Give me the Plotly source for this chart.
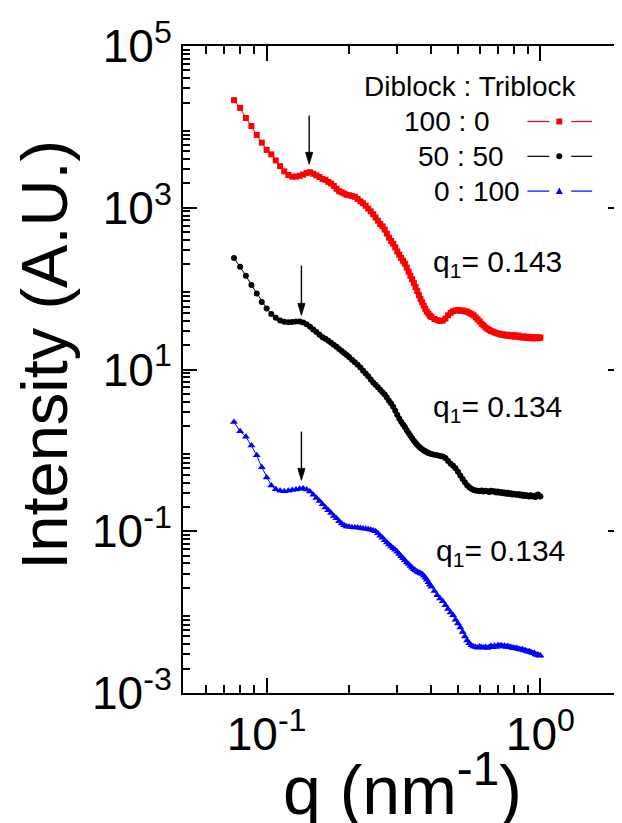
import math
import plotly.graph_objects as go

# ---------------- data ----------------
q_nm = [
    0.076, 0.080, 0.084, 0.088, 0.092, 0.096, 0.100, 0.104, 0.108, 0.112,
    0.116, 0.120, 0.124, 0.128, 0.132, 0.136, 0.140, 0.144, 0.148, 0.152,
    0.156, 0.160, 0.164, 0.168, 0.172, 0.176, 0.180, 0.184, 0.188, 0.192,
    0.196, 0.200,
    0.205, 0.210, 0.215, 0.220, 0.225, 0.230, 0.235, 0.240, 0.245, 0.250,
    0.255, 0.260, 0.265, 0.270, 0.275, 0.280, 0.285, 0.290, 0.295, 0.300,
    0.305, 0.310, 0.315, 0.320, 0.325, 0.330, 0.335, 0.340, 0.345, 0.350,
    0.355, 0.360, 0.365, 0.370, 0.375, 0.380, 0.385, 0.390, 0.395, 0.400,
    0.41, 0.42, 0.43, 0.44, 0.45, 0.46, 0.47, 0.48, 0.49, 0.50,
    0.51, 0.52, 0.53, 0.54, 0.55, 0.56, 0.57, 0.58, 0.59, 0.60,
    0.61, 0.62, 0.63, 0.64, 0.65, 0.66, 0.67, 0.68, 0.69, 0.70,
    0.71, 0.72, 0.73, 0.74, 0.75, 0.76, 0.77, 0.78, 0.79, 0.80,
    0.81, 0.82, 0.83, 0.84, 0.85, 0.86, 0.87, 0.88, 0.89, 0.90,
    0.91, 0.92, 0.93, 0.94, 0.95, 0.96, 0.97, 0.98, 0.99, 1.00,
]

# log10 of intensity (A.U.)
red_log10_I = [
    4.33, 4.235, 4.11, 4.01, 3.90, 3.805, 3.715, 3.66, 3.585, 3.515,
    3.45, 3.405, 3.385, 3.385, 3.395, 3.41, 3.43, 3.44, 3.42, 3.40,
    3.38, 3.357, 3.345, 3.32, 3.30, 3.27, 3.235, 3.205, 3.19, 3.175,
    3.16, 3.155,
    3.145, 3.135, 3.11, 3.08, 3.055, 3.025, 2.99, 2.955, 2.92, 2.88,
    2.84, 2.80, 2.77, 2.73, 2.68, 2.63, 2.59, 2.555, 2.51, 2.46,
    2.42, 2.38, 2.345, 2.31, 2.26, 2.21, 2.16, 2.115, 2.07, 2.02,
    1.97, 1.92, 1.87, 1.83, 1.79, 1.75, 1.715, 1.69, 1.665, 1.65,
    1.625, 1.61, 1.60, 1.605, 1.63, 1.67, 1.70, 1.72, 1.73, 1.735,
    1.725, 1.73, 1.72, 1.715, 1.70, 1.685, 1.67, 1.645, 1.62, 1.595,
    1.565, 1.545, 1.52, 1.505, 1.49, 1.475, 1.47, 1.46, 1.45, 1.445,
    1.44, 1.43, 1.435, 1.425, 1.42, 1.43, 1.415, 1.42, 1.41, 1.425,
    1.405, 1.41, 1.42, 1.40, 1.405, 1.395, 1.41, 1.40, 1.39, 1.405,
    1.395, 1.40, 1.385, 1.40, 1.39, 1.395, 1.385, 1.40, 1.39, 1.395,
]

black_log10_I = [
    2.38, 2.27, 2.16, 2.045, 1.94, 1.835, 1.755, 1.685, 1.64, 1.605,
    1.59, 1.585, 1.588, 1.592, 1.592, 1.58, 1.56, 1.53, 1.495, 1.465,
    1.43, 1.40, 1.38, 1.355, 1.33, 1.305, 1.28, 1.255, 1.23, 1.205,
    1.18, 1.155,
    1.12, 1.09, 1.06, 1.025, 0.985, 0.95, 0.915, 0.875, 0.84, 0.81,
    0.78, 0.75, 0.72, 0.69, 0.655, 0.615, 0.58, 0.54, 0.49, 0.44,
    0.395, 0.355, 0.32, 0.29, 0.25, 0.215, 0.18, 0.15, 0.12, 0.095,
    0.07, 0.048, 0.03, 0.015, 0.0, -0.012, -0.022, -0.032, -0.04, -0.045,
    -0.055, -0.06, -0.07, -0.075, -0.095, -0.13, -0.165, -0.19, -0.22, -0.265,
    -0.31, -0.355, -0.395, -0.43, -0.455, -0.475, -0.49, -0.495, -0.50, -0.505,
    -0.495, -0.51, -0.50, -0.505, -0.515, -0.50, -0.51, -0.505, -0.52, -0.51,
    -0.525, -0.515, -0.53, -0.52, -0.535, -0.525, -0.54, -0.53, -0.545, -0.535,
    -0.545, -0.55, -0.54, -0.555, -0.545, -0.56, -0.55, -0.565, -0.555, -0.56,
    -0.57, -0.555, -0.565, -0.57, -0.56, -0.575, -0.565, -0.545, -0.56, -0.57,
]

blue_log10_I = [
    0.35, 0.235, 0.17, 0.06, -0.06, -0.21, -0.335, -0.435, -0.48, -0.50,
    -0.505, -0.50, -0.49, -0.485, -0.475, -0.472, -0.485, -0.51, -0.55, -0.59,
    -0.625, -0.665, -0.705, -0.74, -0.775, -0.81, -0.84, -0.875, -0.905, -0.925,
    -0.94, -0.945,
    -0.95, -0.955, -0.955, -0.96, -0.965, -0.968, -0.975, -0.98, -0.99, -1.00,
    -1.025, -1.055, -1.08, -1.11, -1.14, -1.165, -1.19, -1.21, -1.23, -1.255,
    -1.28, -1.31, -1.335, -1.36, -1.385, -1.405, -1.43, -1.45, -1.47, -1.485,
    -1.50, -1.51, -1.52, -1.53, -1.55, -1.575, -1.60, -1.63, -1.66, -1.685,
    -1.74, -1.79, -1.83, -1.865, -1.915, -1.96, -2.005, -2.04, -2.095, -2.14,
    -2.19, -2.245, -2.30, -2.35, -2.385, -2.41, -2.425, -2.43, -2.44, -2.425,
    -2.435, -2.44, -2.43, -2.445, -2.43, -2.42, -2.435, -2.415, -2.43, -2.41,
    -2.42, -2.41, -2.425, -2.415, -2.43, -2.42, -2.435, -2.43, -2.445, -2.44,
    -2.45, -2.445, -2.455, -2.46, -2.465, -2.46, -2.475, -2.47, -2.48, -2.49,
    -2.485, -2.495, -2.50, -2.51, -2.505, -2.52, -2.53, -2.525, -2.54, -2.535,
]

series_names = ["100 : 0", "50 : 50", "0 : 100"]
series_colors = ["#ff0000", "#000000", "#0000ff"]
series_symbols = ["square", "circle", "triangle-up"]
q1_values = [0.143, 0.134, 0.134]
q1_labels = ["q<sub>1</sub>= 0.143", "q<sub>1</sub>= 0.134", "q<sub>1</sub>= 0.134"]

x_tick_vals = [0.1, 1.0]
x_tick_text = ["10<sup>-1</sup>", "10<sup>0</sup>"]
y_label_vals = [1e-3, 1e-1, 1e1, 1e3, 1e5]
y_label_text = ["10<sup>-3</sup>", "10<sup>-1</sup>", "10<sup>1</sup>",
                "10<sup>3</sup>", "10<sup>5</sup>"]
y_unlabeled_vals = [1e-2, 1e0, 1e2, 1e4]

assert len(q_nm) == len(red_log10_I) == len(black_log10_I) == len(blue_log10_I)

# ---------------- figure ----------------
W, H = 622, 823
OFF = 8                      # page body margin in the rendered page
ML, MR, MT, MB = 175, 6, 34, 138
PW, PH = W - ML - MR, H - MT - MB
FONT = "Liberation Sans, Arial, Helvetica, sans-serif"
X_RANGE = [-1.3055, 0.2982]   # log10 q
Y_RANGE = [-3, 5]             # log10 I


def px_x(x):
    """screen x (px) -> paper x"""
    return (x - OFF - ML) / PW


def px_y(y):
    """screen y (px) -> paper y"""
    return (H - MB - (y - OFF)) / PH


def q_to_paper(qv):
    return (math.log10(qv) - X_RANGE[0]) / (X_RANGE[1] - X_RANGE[0])


fig = go.Figure()
all_series = [red_log10_I, black_log10_I, blue_log10_I]
msizes = [6, 6, 7]
for vals, name, col, sym, ms in zip(all_series, series_names, series_colors,
                                    series_symbols, msizes):
    fig.add_trace(go.Scatter(
        x=q_nm, y=[10 ** v for v in vals], name=name,
        mode="lines+markers",
        line=dict(color=col, width=1),
        marker=dict(symbol=sym, size=ms, color=col, line=dict(width=0)),
        showlegend=False,
    ))

annotations = []
shapes = []

# arrows marking q1 (drawn as line + head)
arrow_px = [(112, 161), (263, 313), (430, 479)]   # (top, tip) in screen px
for qv, (ytop, ytip) in zip(q1_values, arrow_px):
    xp = q_to_paper(qv)
    shapes.append(dict(type="line", xref="paper", yref="paper",
                       x0=xp, x1=xp, y0=px_y(ytop), y1=px_y(ytip - 6),
                       line=dict(color="black", width=1.4)))
    dx = 3.6 / PW
    path = "M {:.5f},{:.5f} L {:.5f},{:.5f} L {:.5f},{:.5f} Z".format(
        xp - dx, px_y(ytip - 12), xp + dx, px_y(ytip - 12), xp, px_y(ytip))
    shapes.append(dict(type="path", xref="paper", yref="paper", path=path,
                       fillcolor="black", line=dict(color="black", width=0.8)))

# q1 labels
q1_pos = [(432, 261), (432, 407), (435, 552)]
for lab, (lx, ly) in zip(q1_labels, q1_pos):
    annotations.append(dict(
        x=px_x(lx), y=px_y(ly), xref="paper", yref="paper", text=lab,
        showarrow=False, xanchor="left", yanchor="middle",
        font=dict(family=FONT, size=30, color="black"),
    ))

# custom legend (text left, sample right)
annotations.append(dict(
    x=px_x(472), y=px_y(83), xref="paper", yref="paper",
    text="Diblock : Triblock", showarrow=False, xanchor="center", yanchor="middle",
    font=dict(family=FONT, size=28, color="black"),
))
leg_rows = [(448, 118), (462.5, 153), (478, 188)]
for (cx, cy), name, col, sym in zip(leg_rows, series_names, series_colors, series_symbols):
    annotations.append(dict(
        x=px_x(cx), y=px_y(cy), xref="paper", yref="paper", text=name,
        showarrow=False, xanchor="center", yanchor="middle",
        font=dict(family=FONT, size=28, color="black"),
    ))
    for x0, x1 in [(529, 551), (573, 594)]:
        shapes.append(dict(type="line", xref="paper", yref="paper",
                           x0=px_x(x0), x1=px_x(x1), y0=px_y(cy), y1=px_y(cy),
                           line=dict(color=col, width=1.2)))
    mx = 561
    if sym == "square":
        shapes.append(dict(type="rect", xref="paper", yref="paper",
                           x0=px_x(mx - 3), x1=px_x(mx + 3), y0=px_y(cy + 3), y1=px_y(cy - 3),
                           fillcolor=col, line=dict(width=0)))
    elif sym == "circle":
        shapes.append(dict(type="circle", xref="paper", yref="paper",
                           x0=px_x(mx - 3), x1=px_x(mx + 3), y0=px_y(cy + 3), y1=px_y(cy - 3),
                           fillcolor=col, line=dict(width=0)))
    else:
        path = "M {:.5f},{:.5f} L {:.5f},{:.5f} L {:.5f},{:.5f} Z".format(
            px_x(mx - 3.5), px_y(cy + 3), px_x(mx + 3.5), px_y(cy + 3), px_x(mx), px_y(cy - 3.5))
        shapes.append(dict(type="path", xref="paper", yref="paper", path=path,
                           fillcolor=col, line=dict(width=0)))

# axis titles
annotations.append(dict(
    x=px_x(43), y=px_y(353), xref="paper", yref="paper",
    text="Intensity (A.U.)", textangle=-90, showarrow=False,
    xanchor="center", yanchor="middle",
    font=dict(family=FONT, size=65, color="black"),
))
annotations.append(dict(
    x=px_x(403), y=px_y(786), xref="paper", yref="paper",
    text="q (nm<sup>-1</sup>)", showarrow=False,
    xanchor="center", yanchor="middle",
    font=dict(family=FONT, size=68, color="black"),
))

x_minor = [0.06, 0.07, 0.08, 0.09, 0.2, 0.3, 0.4, 0.5, 0.6, 0.7, 0.8, 0.9]
y_minor = [k * 10.0 ** e for e in range(-3, 5) for k in range(2, 10)]

axis_common = dict(
    showline=True, linecolor="black", linewidth=2, mirror="ticks",
    ticks="inside", tickcolor="black", tickwidth=2,
    showgrid=False, zeroline=False, tickmode="array",
    tickfont=dict(family=FONT, size=46, color="black"),
)

fig.update_layout(
    width=W, height=H,
    margin=dict(l=ML, r=MR, t=MT, b=MB, pad=0),
    paper_bgcolor="white", plot_bgcolor="white",
    xaxis=dict(type="log", range=X_RANGE,
               tickvals=x_tick_vals, ticktext=x_tick_text, ticklen=15,
               minor=dict(tickmode="array", tickvals=x_minor, ticks="inside",
                          ticklen=8, tickwidth=2, tickcolor="black"),
               **axis_common),
    yaxis=dict(type="log", range=Y_RANGE,
               tickvals=y_label_vals, ticktext=y_label_text, ticklen=14,
               minor=dict(tickmode="array", tickvals=y_minor, ticks="inside",
                          ticklen=7, tickwidth=2, tickcolor="black"),
               **axis_common),
    yaxis2=dict(type="log", range=Y_RANGE, overlaying="y", anchor="x", side="left",
                tickmode="array", tickvals=y_unlabeled_vals, showticklabels=False,
                ticks="inside", ticklen=14, tickwidth=2, tickcolor="black",
                showline=False, mirror="ticks", showgrid=False, zeroline=False),
    annotations=annotations,
    shapes=shapes,
    showlegend=False,
)

fig.write_html("out.html")
